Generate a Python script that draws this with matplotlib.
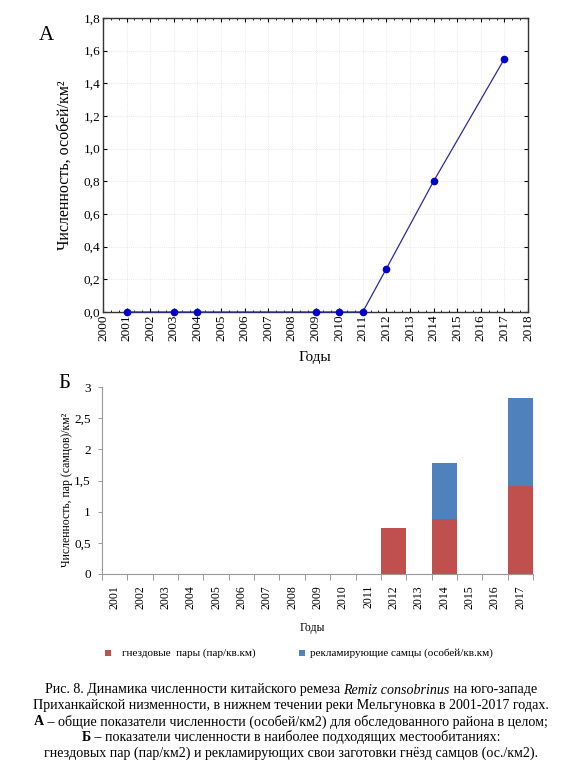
import matplotlib
matplotlib.use("Agg")
import matplotlib.pyplot as plt
from matplotlib.ticker import MultipleLocator, FuncFormatter
from matplotlib.patches import Rectangle

plt.rcParams['font.family'] = ['Liberation Serif', 'DejaVu Serif']

# ---- данные: панель А (общая численность, особей/км2) ----
years_a = [2001, 2003, 2004, 2009, 2010, 2011, 2012, 2014, 2017]
density_a = [0.0, 0.0, 0.0, 0.0, 0.0, 0.0, 0.265, 0.80, 1.55]

# ---- данные: панель Б (стек: пары + самцы) ----
years_b = [str(y) for y in range(2001, 2018)]
pairs = [0, 0, 0, 0, 0, 0, 0, 0, 0, 0, 0, 0.73, 0, 0.88, 0, 0, 1.41]
males = [0, 0, 0, 0, 0, 0, 0, 0, 0, 0, 0, 0.0, 0, 0.90, 0, 0, 1.41]
legend_labels = ['гнездовые  пары (пар/кв.км)', 'рекламирующие самцы (особей/кв.км)']

RED = '#C0504D'
BLUE = '#4F81BD'

W, H = 582, 768
fig = plt.figure(figsize=(W / 100, H / 100), dpi=100)


def box(l, t, r, b):
    return [l / W, 1 - b / H, (r - l) / W, (b - t) / H]


def px(x, y):
    return x / W, 1 - y / H


def comma(v, nd=1):
    return f'{v:.{nd}f}'.replace('.', ',')


# ============ панель А ============
ax1 = fig.add_axes(box(103, 18, 528, 312))
ax1.plot(years_a, density_a, color='#2a2a9a', lw=0.9, marker='o', ms=4.5,
         mfc='#0000c8', mec='#0000c8', clip_on=False, zorder=3)
ax1.set_xlim(2000, 2018)
ax1.set_ylim(0, 1.8)
ax1.xaxis.set_major_locator(MultipleLocator(1))
ax1.xaxis.set_minor_locator(MultipleLocator(1 / 3))
ax1.yaxis.set_major_locator(MultipleLocator(0.2))
ax1.yaxis.set_major_formatter(FuncFormatter(lambda v, p: comma(v, 1)))
ax1.tick_params(axis='both', which='major', direction='in', length=3, width=0.8,
                top=True, right=True, labelsize=9.5, pad=2)
ax1.tick_params(axis='x', which='minor', direction='in', length=1.5, width=0.6,
                top=True, bottom=True)
for lbl in ax1.get_xticklabels():
    lbl.set_rotation(90)
ax1.grid(True, which='major', color='#d8d8d8', lw=0.5, ls=':')
for s in ax1.spines.values():
    s.set_linewidth(1.0)
    s.set_color('#333333')

fig.text(*px(65, 165), 'Численность, особей/км²', rotation=90, ha='center',
         va='center', fontsize=11.5)
fig.text(*px(315, 358), 'Годы', ha='center', va='center', fontsize=11)
fig.text(*px(46, 35), 'А', ha='center', va='center', fontsize=15)

# ============ панель Б ============
ax2 = fig.add_axes(box(102, 387, 533, 574))
xpos = list(range(len(years_b)))
ax2.bar(xpos, pairs, width=1.0, color=RED)
ax2.bar(xpos, males, width=1.0, bottom=pairs, color=BLUE)
ax2.set_xlim(-0.5, len(years_b) - 0.5)
ax2.set_ylim(0, 3)
ax2.yaxis.set_major_locator(MultipleLocator(0.5))
ax2.yaxis.set_major_formatter(FuncFormatter(
    lambda v, p: str(int(v)) if v == int(v) else comma(v, 1)))
ax2.set_xticks(xpos)
ax2.set_xticklabels(years_b, rotation=90, fontsize=8.5)
ax2.set_xticks([x - 0.5 for x in xpos] + [len(years_b) - 0.5], minor=True)
ax2.tick_params(axis='x', which='major', length=0, pad=8)
ax2.tick_params(axis='x', which='minor', length=4, width=0.7, color='#999999',
                direction='out')
ax2.tick_params(axis='y', length=3, width=0.7, color='#999999', labelsize=9.5, pad=5)
for s in ['top', 'right']:
    ax2.spines[s].set_visible(False)
for s in ['left', 'bottom']:
    ax2.spines[s].set_color('#999999')
    ax2.spines[s].set_linewidth(0.8)

fig.text(*px(67, 490), 'Численность, пар (самцов)/км²', rotation=90, ha='center',
         va='center', fontsize=8.5)
fig.text(*px(312, 628), 'Годы', ha='center', va='center', fontsize=8.5)
fig.text(*px(64, 384), 'Б', ha='center', va='center', fontsize=15)

# легенда (квадратики + подписи)
for (sx, tx), col, lab in zip([(108, 122), (302, 310)], [RED, BLUE], legend_labels):
    fx, fy = px(sx - 3, 656)
    fig.patches.append(Rectangle((fx, fy), 6 / W, 6 / H, transform=fig.transFigure,
                                 facecolor=col, edgecolor='none'))
    fig.text(*px(tx, 653), lab, ha='left', va='center', fontsize=8)

# ============ подпись (куски с разным начертанием) ============
caption = [
    [('Рис. 8. Динамика численности китайского ремеза ', 'normal', 'normal'),
     ('Remiz consobrinus', 'italic', 'normal'),
     (' на юго-западе', 'normal', 'normal')],
    [('Приханкайской низменности, в нижнем течении реки Мельгуновка в 2001-2017 годах.',
      'normal', 'normal')],
    [('А', 'normal', 'bold'),
     (' – общие показатели численности (особей/км2) для обследованного района в целом;',
      'normal', 'normal')],
    [('Б', 'normal', 'bold'),
     (' – показатели численности в наиболее подходящих местообитаниях:', 'normal', 'normal')],
    [('гнездовых пар (пар/км2) и рекламирующих свои заготовки гнёзд самцов (ос./км2).',
      'normal', 'normal')],
]
renderer = fig.canvas.get_renderer()
for i, parts in enumerate(caption):
    y = 690 + i * 15.8
    texts = [fig.text(0, px(0, y)[1], s, style=st, weight=wt, fontsize=10.1,
                      family='Liberation Serif', ha='left', va='center')
             for s, st, wt in parts]
    widths = [t.get_window_extent(renderer).width for t in texts]
    x = 291 - sum(widths) / 2
    for t, w in zip(texts, widths):
        t.set_x(x / W)
        x += w

fig.savefig('out.png', dpi=100, facecolor='white')
